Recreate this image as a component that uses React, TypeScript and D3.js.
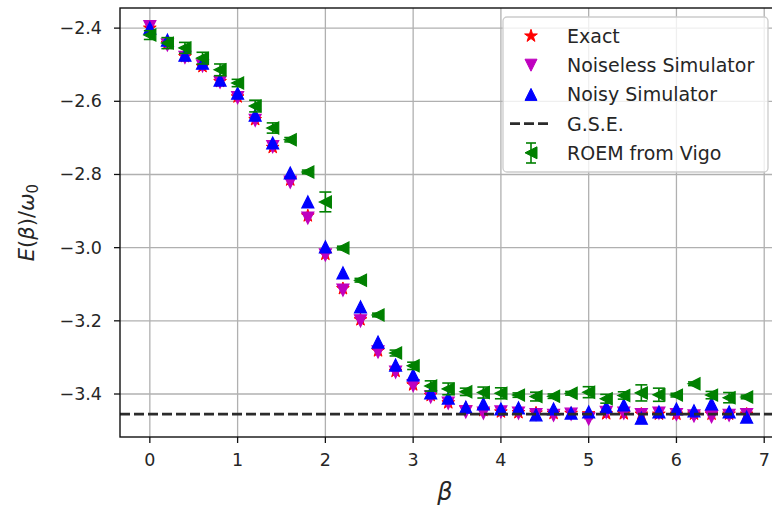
import * as d3 from 'd3';

const beta = [0, 0.2, 0.4, 0.6, 0.8, 1.0, 1.2, 1.4, 1.6, 1.8, 2.0, 2.2, 2.4, 2.6, 2.8, 3.0, 3.2, 3.4,
  3.6, 3.8, 4.0, 4.2, 4.4, 4.6, 4.8, 5.0, 5.2, 5.4, 5.6, 5.8, 6.0, 6.2, 6.4, 6.6, 6.8];

const exact = [-2.400, -2.442, -2.478, -2.505, -2.546, -2.588, -2.650, -2.726, -2.815, -2.913, -3.018,
  -3.112, -3.197, -3.282, -3.338, -3.375, -3.404, -3.424, -3.438, -3.445, -3.449, -3.451, -3.452,
  -3.453, -3.453, -3.454, -3.454, -3.454, -3.455, -3.455, -3.455, -3.455, -3.455, -3.455, -3.455];

const noiseless = [-2.396, -2.446, -2.480, -2.503, -2.548, -2.590, -2.652, -2.724, -2.821, -2.919, -3.020,
  -3.116, -3.200, -3.285, -3.340, -3.377, -3.408, -3.425, -3.449, -3.452, -3.449, -3.452, -3.456,
  -3.458, -3.455, -3.468, -3.450, -3.452, -3.456, -3.452, -3.456, -3.460, -3.462, -3.458, -3.456];

const noisy = [-2.400, -2.433, -2.474, -2.496, -2.542, -2.578, -2.638, -2.714, -2.796, -2.875, -2.998,
  -3.069, -3.162, -3.258, -3.321, -3.348, -3.397, -3.411, -3.436, -3.427, -3.441, -3.438, -3.457,
  -3.441, -3.452, -3.449, -3.436, -3.430, -3.466, -3.449, -3.441, -3.446, -3.427, -3.449, -3.463];

const roem = [-2.419, -2.441, -2.454, -2.482, -2.514, -2.550, -2.613, -2.673, -2.705, -2.793, -2.875,
  -3.001, -3.089, -3.184, -3.288, -3.323, -3.378, -3.386, -3.394, -3.396, -3.398, -3.403, -3.407,
  -3.406, -3.398, -3.395, -3.413, -3.404, -3.397, -3.402, -3.403, -3.372, -3.403, -3.410, -3.408];

const roemErr = [0.012, 0.015, 0.015, 0.016, 0.016, 0.010, 0.016, 0.014, 0.006, 0.005, 0.027,
  0.005, 0.005, 0.005, 0.008, 0.010, 0.014, 0.016, 0.010, 0.015, 0.015, 0.006, 0.012,
  0.006, 0.005, 0.015, 0.012, 0.010, 0.022, 0.018, 0.005, 0.005, 0.010, 0.014, 0.005];

const gse = -3.455;

const xTicks = [0, 1, 2, 3, 4, 5, 6, 7];
const yTicks = [-2.4, -2.6, -2.8, -3.0, -3.2, -3.4];

const legendItems = ['Exact', 'Noiseless Simulator', 'Noisy Simulator', 'G.S.E.', 'ROEM from Vigo'];

const W = 772;
const H = 512;
const plot = { left: 120, right: 776.5, top: 8, bottom: 437 };
const font = 'DejaVu Sans, sans-serif';
const txt = '#262626';

const x = d3.scaleLinear().domain([-0.34, 7.14]).range([plot.left, plot.right]);
const y = d3.scaleLinear().domain([-2.345, -3.5175]).range([plot.top, plot.bottom]);

const s = 6;
const up = `M0,${-s}L${-s},${s}L${s},${s}Z`;
const down = `M0,${s}L${-s},${-s}L${s},${-s}Z`;
const left = `M${-s},0L${s},${-s}L${s},${s}Z`;
const star = d3.symbol(d3.symbolStar, 50)();

function App() {
  const fmt = (v: number) => v.toFixed(1).replace('-', '\u2212');
  return (
    <svg width={W} height={H} style={{ position: 'absolute', left: 0, top: 0, background: '#fff' }}
      fontFamily={font}>
      <rect width={W} height={H} fill="#fff" />
      {/* grid */}
      <g stroke="#b0b0b0" strokeWidth={1.3}>
        {xTicks.map(t => <line key={'gx' + t} x1={x(t)} x2={x(t)} y1={plot.top} y2={plot.bottom} />)}
        {yTicks.map(t => <line key={'gy' + t} x1={plot.left} x2={plot.right} y1={y(t)} y2={y(t)} />)}
      </g>

      {/* exact */}
      <g fill="#ff0000" stroke="#ff0000" strokeWidth={1}>
        {beta.map((b, i) => <path key={i} d={star} transform={`translate(${x(b)},${y(exact[i])})`} />)}
      </g>
      {/* noiseless */}
      <g fill="#bf00bf" stroke="#bf00bf" strokeWidth={1.2}>
        {beta.map((b, i) => <path key={i} d={down} transform={`translate(${x(b)},${y(noiseless[i])})`} />)}
      </g>
      {/* noisy */}
      <g fill="#0000ff" stroke="#0000ff" strokeWidth={1.2}>
        {beta.map((b, i) => <path key={i} d={up} transform={`translate(${x(b)},${y(noisy[i])})`} />)}
      </g>

      {/* ground state energy */}
      <line x1={plot.left} x2={plot.right} y1={y(gse)} y2={y(gse)} stroke="#2b2b2b" strokeWidth={2.7}
        strokeDasharray="10,4" />

      {/* ROEM with error bars */}
      <g stroke="#008000" strokeWidth={1.6}>
        {beta.map((b, i) => {
          const cx = x(b), y1 = y(roem[i] + roemErr[i]), y2 = y(roem[i] - roemErr[i]);
          return <g key={i}>
            <line x1={cx} x2={cx} y1={y1} y2={y2} />
            <line x1={cx - 6} x2={cx + 6} y1={y1} y2={y1} />
            <line x1={cx - 6} x2={cx + 6} y1={y2} y2={y2} />
          </g>;
        })}
      </g>
      <g fill="#008000" stroke="#008000" strokeWidth={1.2}>
        {beta.map((b, i) => <path key={i} d={left} transform={`translate(${x(b)},${y(roem[i])})`} />)}
      </g>

      {/* spines */}
      <rect x={plot.left} y={plot.top} width={plot.right - plot.left} height={plot.bottom - plot.top}
        fill="none" stroke="#111" strokeWidth={1.4} />

      {/* ticks */}
      <g stroke="#111" strokeWidth={1.3}>
        {xTicks.map(t => <line key={'tx' + t} x1={x(t)} x2={x(t)} y1={plot.bottom} y2={plot.bottom + 6} />)}
        {yTicks.map(t => <line key={'ty' + t} x1={plot.left - 6} x2={plot.left} y1={y(t)} y2={y(t)} />)}
      </g>
      <g fontSize={17.5} fill={txt}>
        {xTicks.map(t => <text key={'lx' + t} x={x(t)} y={plot.bottom + 29} textAnchor="middle">{t}</text>)}
        {yTicks.map(t => <text key={'ly' + t} x={102} y={y(t) + 6} textAnchor="end">{fmt(t)}</text>)}
      </g>

      {/* axis labels */}
      <text x={445} y={500} fontSize={24} fontStyle="italic" textAnchor="middle" fill={txt}>β</text>
      <text transform={`translate(34,${(plot.top + plot.bottom) / 2}) rotate(-90)`} fontSize={21}
        textAnchor="middle" fill={txt}>
        <tspan fontStyle="italic">E</tspan>(<tspan fontStyle="italic">β</tspan>)/<tspan fontStyle="italic">ω</tspan>
        <tspan fontSize={15} dy={4}>0</tspan>
      </text>

      {/* legend */}
      <g>
        <rect x={503} y={17} width={265} height={155} rx={4} fill="#fff" fillOpacity={0.8}
          stroke="#cccccc" strokeWidth={1.3} />
        {legendItems.map((name, i) => {
          const ly = 36 + i * 29.2;
          return <text key={name} x={567} y={ly + 7} fontSize={19} fill={txt}>{name}</text>;
        })}
        <path d={star} transform="translate(531,36)" fill="#ff0000" stroke="#ff0000" />
        <path d={down} transform="translate(531,65.2)" fill="#bf00bf" stroke="#bf00bf" />
        <path d={up} transform="translate(531,94.4)" fill="#0000ff" stroke="#0000ff" />
        <line x1={510} x2={550} y1={123.6} y2={123.6} stroke="#2b2b2b" strokeWidth={2.7} strokeDasharray="10,4" />
        <g stroke="#008000" strokeWidth={1.6}>
          <line x1={531} x2={531} y1={143} y2={163} />
          <line x1={526} x2={536} y1={143} y2={143} />
          <line x1={526} x2={536} y1={163} y2={163} />
        </g>
        <path d={left} transform="translate(531,152.8)" fill="#008000" stroke="#008000" />
      </g>
    </svg>
  );
}

export default App;
